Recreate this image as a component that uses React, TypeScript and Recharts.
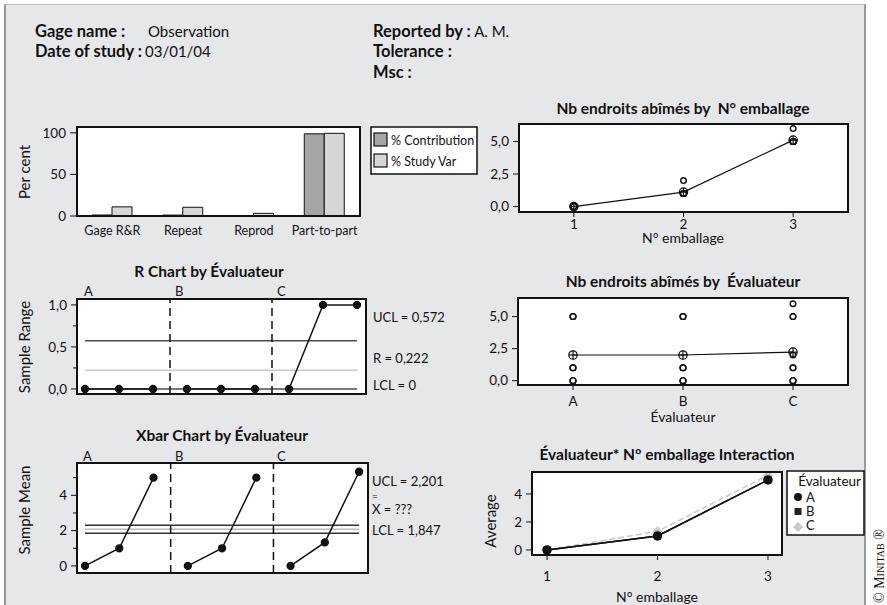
import React from "react";
import {
  BarChart,
  Bar,
  ComposedChart,
  Line,
  Scatter,
  XAxis,
  YAxis,
  ReferenceLine,
} from "recharts";

const FONT = "Lato, 'Open Sans', 'DejaVu Sans', sans-serif";
const INK = "#111";

// composantes de variation (%)
const components = ["Gage R&R", "Repeat", "Reprod", "Part-to-part"];
const contribution = [1.2, 1.1, 0.1, 98.8];
const studyVar = [11.0, 10.5, 3.2, 99.4];
const barSeries = [
  { key: "contribution", name: "% Contribution", fill: "#a5a5a5" },
  { key: "studyVar", name: "% Study Var", fill: "#d6d6d6" },
];

// mesures : évaluateur -> emballage -> essais
const operators = ["A", "B", "C"];
const parts = [1, 2, 3];
const readingsA = [[0, 0, 0], [1, 1, 1], [5, 5, 5]];
const readingsB = [[0, 0, 0], [1, 1, 1], [5, 5, 5]];
const readingsC = [[0, 0, 0], [1, 1, 2], [5, 5, 6]];
const readings = [readingsA, readingsB, readingsC];

// limites de contrôle (UCL, centre, LCL)
const rLimits = [0.572, 0.222, 0];
const xbarLimits = [2.301, 2.074, 1.847];
const rLabels = ["UCL = 0,572", "R = 0,222", "LCL = 0"];
const xbarLabels = ["UCL = 2,201", "X = ???", "LCL = 1,847"];

// graduations
const pctTicks = [0, 50, 100];
const rTicks = [0, 0.25, 0.5, 0.75, 1];
const rMajor = [0, 0.5, 1];
const xbarTicks = [0, 1, 2, 3, 4, 5];
const xbarMajor = [0, 2, 4];
const obsTicks = [0, 2.5, 5];
const avgTicks = [0, 2, 4];

const mean = (a: number[]) => a.reduce((s, v) => s + v, 0) / a.length;
const range = (a: number[]) => Math.max(...a) - Math.min(...a);
const fmt1 = (v: number) => v.toFixed(1).replace(".", ",");
const fmt0 = (v: number) => String(v);

const barRows = components.map((name, i) => ({
  name,
  contribution: contribution[i],
  studyVar: studyVar[i],
}));

const seqRows = operators.flatMap((op, k) =>
  parts.map((p, j) => ({
    i: k * parts.length + j + 1,
    op,
    r: range(readings[k][j]),
    m: mean(readings[k][j]),
  }))
);
const rRows = seqRows.map((s) => ({ i: s.i, [s.op]: s.r }));
const xbarRows = seqRows.map((s) => ({ i: s.i, [s.op]: s.m }));
const seqFirst = seqRows[0].i;
const seqLast = seqRows[seqRows.length - 1].i;
const seqBreaks = operators.slice(1).map((_, k) => (k + 1) * parts.length + 0.5);

const byPartObs = parts.flatMap((p, j) =>
  readings.flatMap((op) => op[j].map((v) => ({ x: p, y: v })))
);
const byPartMean = parts.map((p, j) => ({ x: p, y: mean(readings.flatMap((op) => op[j])) }));
const byOpObs = operators.flatMap((_, k) => readings[k].flat().map((v) => ({ x: k + 1, y: v })));
const byOpMean = operators.map((_, k) => ({ x: k + 1, y: mean(readings[k].flat()) }));
const interRows = parts.map((p, j) => ({
  part: p,
  ...Object.fromEntries(operators.map((op, k) => [op, mean(readings[k][j])])),
}));

const PAD = 3;
const M = { top: PAD, right: PAD, bottom: PAD, left: 0 };
const AXIS = { stroke: INK, strokeWidth: 2 };

// zones de tracé sur la page
const layout = {
  bar: { left: 77, top: 127, plotW: 283, plotH: 89, axisW: 50, axisH: 25 },
  r: { left: 77, top: 299, plotW: 289, plotH: 95, axisW: 50, axisH: 0 },
  xbar: { left: 77, top: 463, plotW: 291, plotH: 110, axisW: 50, axisH: 0 },
  part: { left: 519, top: 124, plotW: 329, plotH: 88, axisW: 50, axisH: 24 },
  oper: { left: 518, top: 298, plotW: 330, plotH: 87, axisW: 50, axisH: 24 },
  inter: { left: 532, top: 472, plotW: 250, plotH: 83, axisW: 40, axisH: 30 },
};

function yTick(major: number[], fmt: (v: number) => string, len = 6) {
  return (props: any) => {
    const { x, y, payload } = props;
    const v = Number(payload.value);
    const isMajor = major.some((m) => Math.abs(m - v) < 1e-6);
    return (
      <g>
        <line x1={x - (isMajor ? len : 4)} y1={y} x2={x} y2={y} stroke={INK} />
        {isMajor && (
          <text x={x - len - 4} y={y} dy="0.35em" textAnchor="end" fontSize={13.5} fill={INK}>
            {fmt(v)}
          </text>
        )}
      </g>
    );
  };
}

// fond blanc derrière la zone de tracé, graphique par-dessus
function Plot({ box, render }: any) {
  const { left, top, plotW, plotH, axisW, axisH } = box;
  const w = axisW + plotW + PAD;
  const h = plotH + axisH + PAD * 2;
  return (
    <div style={{ position: "absolute", left: left - axisW, top: top - PAD, width: w, height: h }}>
      <div style={{ position: "absolute", left: axisW, top: PAD, width: plotW, height: plotH, background: "#fff" }} />
      <div style={{ position: "absolute", left: 0, top: 0 }}>{render(w, h)}</div>
    </div>
  );
}

const openCircle = (props: any) => (
  <circle cx={props.cx} cy={props.cy} r={2.8} fill="#fff" stroke={INK} strokeWidth={1.4} />
);
const crossCircle = (props: any) => {
  const { cx, cy, key } = props;
  if (cx == null || cy == null) return <g key={key} />;
  return (
    <g key={key}>
      <circle cx={cx} cy={cy} r={4.2} fill="none" stroke={INK} strokeWidth={1.2} />
      <line x1={cx - 4.2} x2={cx + 4.2} y1={cy} y2={cy} stroke={INK} strokeWidth={1.2} />
      <line x1={cx} x2={cx} y1={cy - 4.2} y2={cy + 4.2} stroke={INK} strokeWidth={1.2} />
    </g>
  );
};
const squareDot = (props: any) => {
  const { cx, cy, key } = props;
  if (cx == null || cy == null) return <g key={key} />;
  return <rect key={key} x={cx - 3.5} y={cy - 3.5} width={7} height={7} fill="#222" />;
};
const diamondDot = (props: any) => {
  const { cx, cy, key } = props;
  if (cx == null || cy == null) return <g key={key} />;
  return <path key={key} d={`M${cx},${cy - 5}L${cx + 5},${cy}L${cx},${cy + 5}L${cx - 5},${cy}Z`} fill="#c8c8c8" />;
};

const limitColors = {
  r: ["#4d4d4d", "#c9c9c9", "#4d4d4d"],
  x: ["#333", "#bdbdbd", "#333"],
};

function SeqChart({ rows, limits, colors, xDomain, yDomain, ticks, major, fmt, width, height }: any) {
  return (
    <ComposedChart width={width} height={height} data={rows} margin={M}>
      <XAxis dataKey="i" type="number" domain={xDomain} allowDataOverflow height={0} tick={false} tickLine={false} axisLine={AXIS} />
      <YAxis type="number" domain={yDomain} allowDataOverflow ticks={ticks} interval={0} width={50} tickSize={0} tickMargin={0} tickLine={false} axisLine={AXIS} tick={yTick(major, fmt, 6)} />
      {limits.map((v: number, n: number) => (
        <ReferenceLine key={"l" + n} segment={[{ x: seqFirst, y: v }, { x: seqLast, y: v }]} stroke={colors[n]} strokeWidth={1.5} />
      ))}
      {seqBreaks.map((b) => (
        <ReferenceLine key={"b" + b} x={b} stroke={INK} strokeWidth={1.5} strokeDasharray="8 5" />
      ))}
      {operators.map((op) => (
        <Line key={op} dataKey={op} stroke={INK} strokeWidth={1.5} connectNulls={false} dot={{ r: 3.4, fill: INK, stroke: INK }} isAnimationActive={false} />
      ))}
    </ComposedChart>
  );
}

function ObsChart({ obs, means, yDomain, width, height, tickFmt, tickMargin }: any) {
  return (
    <ComposedChart width={width} height={height} margin={M}>
      <XAxis dataKey="x" type="number" domain={[0.5, 3.5]} allowDataOverflow ticks={[1, 2, 3]} height={24} tickSize={5} tickMargin={tickMargin} tickFormatter={tickFmt} axisLine={AXIS} tickLine={{ stroke: INK }} tick={{ fontSize: 13.5, fill: INK }} />
      <YAxis type="number" domain={yDomain} allowDataOverflow ticks={obsTicks} interval={0} width={50} tickSize={0} tickMargin={0} tickLine={false} axisLine={AXIS} tick={yTick(obsTicks, fmt1, 6)} />
      <Scatter data={obs} dataKey="y" shape={openCircle} isAnimationActive={false} />
      <Line data={means} dataKey="y" stroke={INK} strokeWidth={1.2} dot={crossCircle} isAnimationActive={false} />
    </ComposedChart>
  );
}

export default function App() {
  const t = (x: number, y: number, s: string, extra: any = {}) => (
    <text x={x} y={y} fontSize={13} fill={INK} {...extra}>
      {s}
    </text>
  );
  const title = (x: number, y: number, s: string) =>
    t(x, y, s, { fontSize: 15.5, fontWeight: "bold", textAnchor: "middle" });
  const vlabel = (x: number, y: number, s: string) => (
    <text transform={`translate(${x},${y}) rotate(-90)`} textAnchor="middle" fontSize={15} fill={INK}>
      {s}
    </text>
  );

  return (
    <div style={{ position: "absolute", left: 0, top: 0, width: 887, height: 605, overflow: "hidden", background: "#fff", fontFamily: FONT }}>
      <div style={{ position: "absolute", left: 4, top: 4, width: 858, height: 620, background: "#e6e7e9", borderTop: "1px solid #bbb", borderLeft: "2px solid #9a9a9a", borderRight: "2px solid #9a9a9a" }} />

      <Plot
        box={layout.bar}
        render={(w: number, h: number) => (
          <BarChart width={w} height={h} data={barRows} margin={M} barGap={0} barSize={20}>
            <XAxis dataKey="name" height={25} interval={0} tickLine={false} tickSize={6} tickMargin={4} axisLine={AXIS} tick={{ fontSize: 12.5, fill: INK }} />
            <YAxis type="number" domain={[0, 107]} allowDataOverflow ticks={pctTicks} interval={0} width={50} tickSize={0} tickMargin={0} tickLine={false} axisLine={AXIS} tick={yTick(pctTicks, fmt0, 7)} />
            {barSeries.map((s) => (
              <Bar key={s.key} dataKey={s.key} name={s.name} fill={s.fill} stroke={INK} strokeWidth={1} isAnimationActive={false} />
            ))}
          </BarChart>
        )}
      />

      <Plot
        box={layout.r}
        render={(w: number, h: number) => (
          <SeqChart rows={rRows} limits={rLimits} colors={limitColors.r} xDomain={[0.765, 9.265]} yDomain={[-0.06, 1.07]} ticks={rTicks} major={rMajor} fmt={fmt1} width={w} height={h} />
        )}
      />

      <Plot
        box={layout.xbar}
        render={(w: number, h: number) => (
          <SeqChart rows={xbarRows} limits={xbarLimits} colors={limitColors.x} xDomain={[0.766, 9.26]} yDomain={[-0.4, 5.83]} ticks={xbarTicks} major={xbarMajor} fmt={fmt0} width={w} height={h} />
        )}
      />

      <Plot
        box={layout.part}
        render={(w: number, h: number) => (
          <ObsChart obs={byPartObs} means={byPartMean} yDomain={[-0.42, 6.35]} width={w} height={h} tickMargin={2} tickFmt={fmt0} />
        )}
      />

      <Plot
        box={layout.oper}
        render={(w: number, h: number) => (
          <ObsChart obs={byOpObs} means={byOpMean} yDomain={[-0.34, 6.45]} width={w} height={h} tickMargin={6} tickFmt={(v: number) => operators[v - 1]} />
        )}
      />

      <Plot
        box={layout.inter}
        render={(w: number, h: number) => (
          <ComposedChart width={w} height={h} data={interRows} margin={M}>
            <XAxis dataKey="part" type="number" domain={[0.864, 3.127]} allowDataOverflow ticks={parts} height={30} tickSize={5} tickMargin={11} axisLine={AXIS} tickLine={{ stroke: INK }} tick={{ fontSize: 13.5, fill: INK }} />
            <YAxis type="number" domain={[-0.36, 5.57]} allowDataOverflow ticks={avgTicks} interval={0} width={40} tickSize={0} tickMargin={0} tickLine={false} axisLine={AXIS} tick={yTick(avgTicks, fmt0, 6)} />
            <Line dataKey="C" stroke="#c8c8c8" strokeWidth={1.5} strokeDasharray="6 3" dot={diamondDot} isAnimationActive={false} />
            <Line dataKey="B" stroke={INK} strokeWidth={1.5} dot={squareDot} isAnimationActive={false} />
            <Line dataKey="A" stroke={INK} strokeWidth={1.5} dot={{ r: 4, fill: INK, stroke: INK }} isAnimationActive={false} />
          </ComposedChart>
        )}
      />

      <svg width={887} height={605} style={{ position: "absolute", left: 0, top: 0, pointerEvents: "none", fontFamily: FONT }}>
        {/* cadres des tracés */}
        {Object.entries(layout).map(([k, b]) => (
          <rect key={"f" + k} x={b.left} y={b.top} width={b.plotW} height={b.plotH} fill="none" stroke={INK} strokeWidth={2} />
        ))}

        {/* en-tête */}
        {t(35, 37, "Gage name :", { fontSize: 16.5, fontWeight: "bold" })}
        {t(148, 37, "Observation", { fontSize: 15 })}
        {t(35, 57, "Date of study :", { fontSize: 16.5, fontWeight: "bold" })}
        {t(145, 57, "03/01/04", { fontSize: 15 })}
        <text x={373} y={37} fontSize={16.5} fill={INK}>
          <tspan fontWeight="bold">Reported by :</tspan>
          <tspan fontSize={15}>{"\u00a0A. M."}</tspan>
        </text>
        {t(373, 57, "Tolerance :", { fontSize: 16.5, fontWeight: "bold" })}
        {t(373, 78, "Msc :", { fontSize: 16.5, fontWeight: "bold" })}

        {/* composantes */}
        {vlabel(30, 172, "Per cent")}
        <rect x={371} y={127} width={106} height={47} fill="#fff" stroke={INK} strokeWidth={1.5} />
        {barSeries.map((s, n) => (
          <g key={s.key}>
            <rect x={374} y={133 + n * 21} width={13} height={13} fill={s.fill} stroke={INK} strokeWidth={1.2} />
            {t(391, 145 + n * 21, s.name, { fontSize: 12.5 })}
          </g>
        ))}

        {/* carte R */}
        {title(209, 277, "R Chart by Évaluateur")}
        {vlabel(30, 347, "Sample Range")}
        {operators.map((op, k) => t([84, 175, 277][k], 296, op, { key: "ra" + op }))}
        {t(373, 322, rLabels[0])}
        {t(373, 363, rLabels[1])}
        {t(373, 390, rLabels[2])}

        {/* carte Xbar */}
        {title(222, 441, "Xbar Chart by Évaluateur")}
        {vlabel(30, 510, "Sample Mean")}
        {operators.map((op, k) => t([83, 175, 277][k], 461, op, { key: "xa" + op }))}
        {t(372, 486, xbarLabels[0])}
        {t(372, 500, "=", { fontSize: 10 })}
        {t(372, 514, xbarLabels[1])}
        {t(372, 535, xbarLabels[2])}

        {/* par emballage */}
        {title(683, 114, "Nb endroits abîmés by\u00a0 N° emballage")}
        {t(683, 243, "N° emballage", { fontSize: 14, textAnchor: "middle" })}

        {/* par évaluateur */}
        {title(683, 287, "Nb endroits abîmés by\u00a0 Évaluateur")}
        {t(683, 422, "Évaluateur", { fontSize: 14, textAnchor: "middle" })}

        {/* interaction */}
        {title(667, 460, "Évaluateur* N° emballage Interaction")}
        {vlabel(496, 521, "Average")}
        {t(657, 602, "N° emballage", { fontSize: 14, textAnchor: "middle" })}
        <rect x={787} y={471} width={77} height={64} fill="#fff" stroke={INK} strokeWidth={1.5} />
        {t(861, 486, "Évaluateur", { fontSize: 13.5, textAnchor: "end" })}
        <circle cx={798} cy={497} r={4} fill={INK} />
        <rect x={794.5} y={508} width={7} height={7} fill="#222" />
        <path d="M798,522L803,527L798,532L793,527Z" fill="#c8c8c8" />
        {operators.map((op, k) => t(806, 502 + k * 14, op, { fontSize: 13, key: "lg" + op }))}

        <text transform="translate(884,603) rotate(-90)" fontFamily="'Liberation Serif', 'DejaVu Serif', serif" fontSize={14} fill={INK} style={{ fontVariant: "small-caps" }}>
          © Minitab ®
        </text>
      </svg>
    </div>
  );
}
